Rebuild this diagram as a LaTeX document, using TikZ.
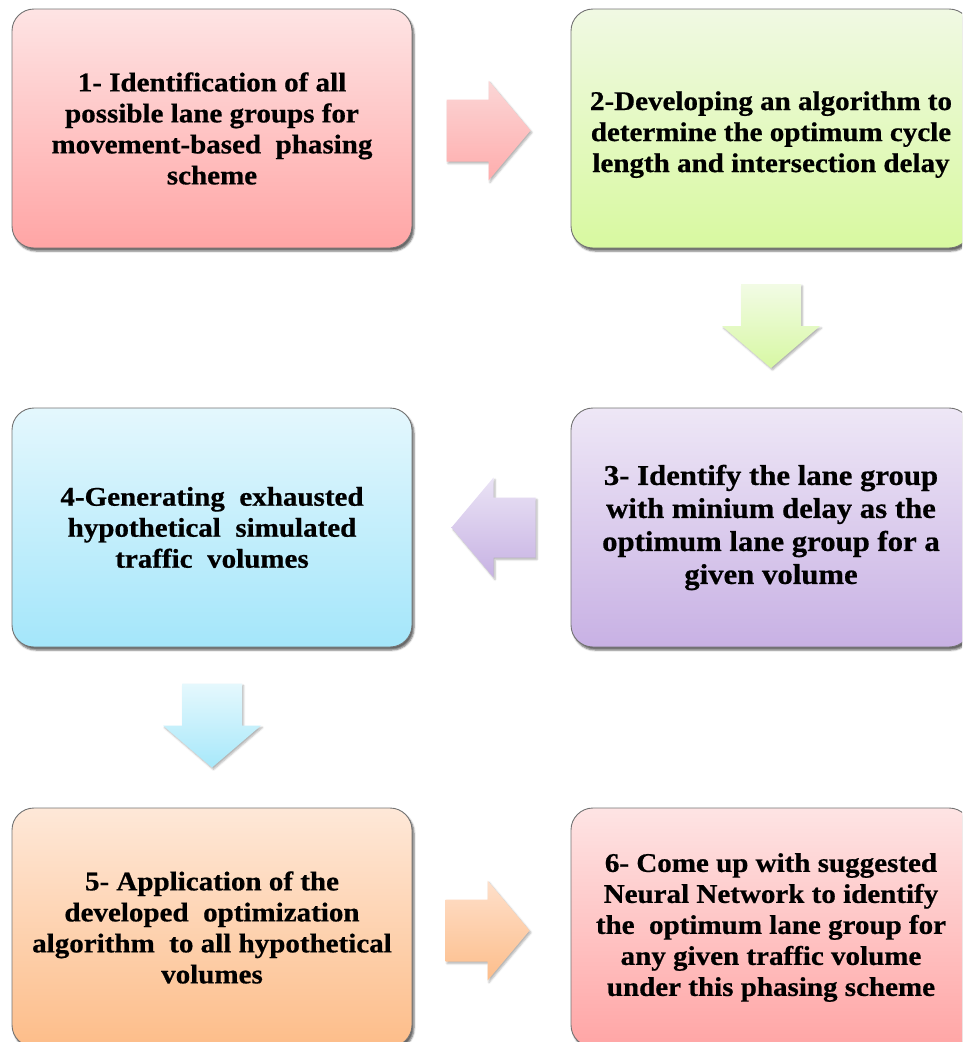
\documentclass[tikz,border=0pt]{standalone}
\usepackage{fontspec}
\setmainfont[FakeStretch=1.075, FakeBold=0.6]{Liberation Serif}
\usetikzlibrary{calc,shadows.blur}

\definecolor{redTop}{HTML}{FEE4E4}
\definecolor{redBot}{HTML}{FFA5A5}
\definecolor{greenTop}{HTML}{F0F9E3}
\definecolor{greenBot}{HTML}{D8F9A0}
\definecolor{violetTop}{HTML}{EEE7F6}
\definecolor{violetBot}{HTML}{C8B1E4}
\definecolor{cyanTop}{HTML}{E4F7FD}
\definecolor{cyanBot}{HTML}{A4E6FA}
\definecolor{orangeTop}{HTML}{FEE8D8}
\definecolor{orangeBot}{HTML}{FDBD89}

\definecolor{redArrTop}{HTML}{FBD6D6}
\definecolor{redArrBot}{HTML}{FFADAD}
\definecolor{greenArrTop}{HTML}{F2FBE5}
\definecolor{greenArrBot}{HTML}{D7F8A3}
\definecolor{violetArrTop}{HTML}{EAE3F5}
\definecolor{violetArrBot}{HTML}{C7B2E3}
\definecolor{cyanArrTop}{HTML}{E5F8FD}
\definecolor{cyanArrBot}{HTML}{A7E8FA}
\definecolor{orangeArrTop}{HTML}{FEDFCA}
\definecolor{orangeArrBot}{HTML}{FDBE8B}

\tikzset{
  stepbox/.style={draw=black!55, line width=0.9pt, rounded corners=22pt,
    minimum width=400pt, minimum height=239pt, align=center,
    font=\bfseries\fontsize{27}{31}\selectfont, text=black,
    blur shadow={shadow xshift=2pt, shadow yshift=-3pt, shadow blur steps=4,
      shadow blur extra rounding=1pt, shadow opacity=60}},
  blockarrow/.style={draw=none,
    blur shadow={shadow xshift=1.5pt, shadow yshift=-2pt, shadow blur steps=4,
      shadow opacity=30}}
}

% block arrows built around a centre coordinate
\newcommand\arrowRight[3]{%
  \path[blockarrow, top color=#2, bottom color=#3, shift={(#1)}]
    (-42,-31) -- (0,-31) -- (0,-50) -- (42,0) -- (0,50) -- (0,31) -- (-42,31) -- cycle;}
\newcommand\arrowLeft[3]{%
  \path[blockarrow, top color=#2, bottom color=#3, shift={(#1)}]
    (42,-30) -- (0,-30) -- (0,-50) -- (-42,0) -- (0,50) -- (0,30) -- (42,30) -- cycle;}
\newcommand\arrowDown[3]{%
  \path[blockarrow, top color=#2, bottom color=#3, shift={(#1)}]
    (-30,-42) -- (30,-42) -- (30,0) -- (49,0) -- (0,42) -- (-49,0) -- (-30,0) -- cycle;}

\begin{document}
\begin{tikzpicture}[x=1pt,y=-1pt]
\useasboundingbox (0,0) rectangle (962,1042);
\clip (0,0) rectangle (962,1042);

% process steps
\node[stepbox, top color=redTop, bottom color=redBot] (b1) at (212,128.5)
  {1- Identification of all\\possible lane groups for\\movement-based\ \ phasing\\scheme};
\node[stepbox, top color=greenTop, bottom color=greenBot] (b2) at (771,128.5)
  {\rule{0pt}{31pt}2-Developing an algorithm to\\determine the optimum cycle\\length and intersection delay};
\node[stepbox, top color=violetTop, bottom color=violetBot,
  font=\bfseries\fontsize{28.6}{33}\selectfont] (b3) at (771,527.5)
  {3- Identify the lane group\\with minium delay as the\\optimum lane group for a\\given volume};
\node[stepbox, top color=cyanTop, bottom color=cyanBot] (b4) at (212,527.5)
  {4-Generating\ \ exhausted\\hypothetical\ \ simulated\\traffic\ \ volumes};
\node[stepbox, top color=orangeTop, bottom color=orangeBot] (b5) at (212,927.5)
  {5- Application of the\\developed\ \ optimization\\algorithm\ \ to all hypothetical\\volumes};
\node[stepbox, top color=redTop, bottom color=redBot] (b6) at (771,927.5)
  {6- Come up with suggested\\Neural Network to identify\\the\ \ optimum lane group for\\any given traffic volume\\under this phasing scheme};

% arrow centres between consecutive steps
\coordinate (a12) at ($(b1.east)!0.5!(b2.west)+(-3,2)$);
\coordinate (a23) at ($(b2.south)!0.5!(b3.north)+(0,-2)$);
\coordinate (a34) at ($(b3.west)!0.5!(b4.east)+(2,0)$);
\coordinate (a45) at ($(b4.south)!0.5!(b5.north)+(0,-2)$);
\coordinate (a56) at ($(b5.east)!0.5!(b6.west)+(-4,3)$);

\arrowRight{a12}{redArrTop}{redArrBot}
\arrowDown{a23}{greenArrTop}{greenArrBot}
\arrowLeft{a34}{violetArrTop}{violetArrBot}
\arrowDown{a45}{cyanArrTop}{cyanArrBot}
\arrowRight{a56}{orangeArrTop}{orangeArrBot}
\end{tikzpicture}
\end{document}
